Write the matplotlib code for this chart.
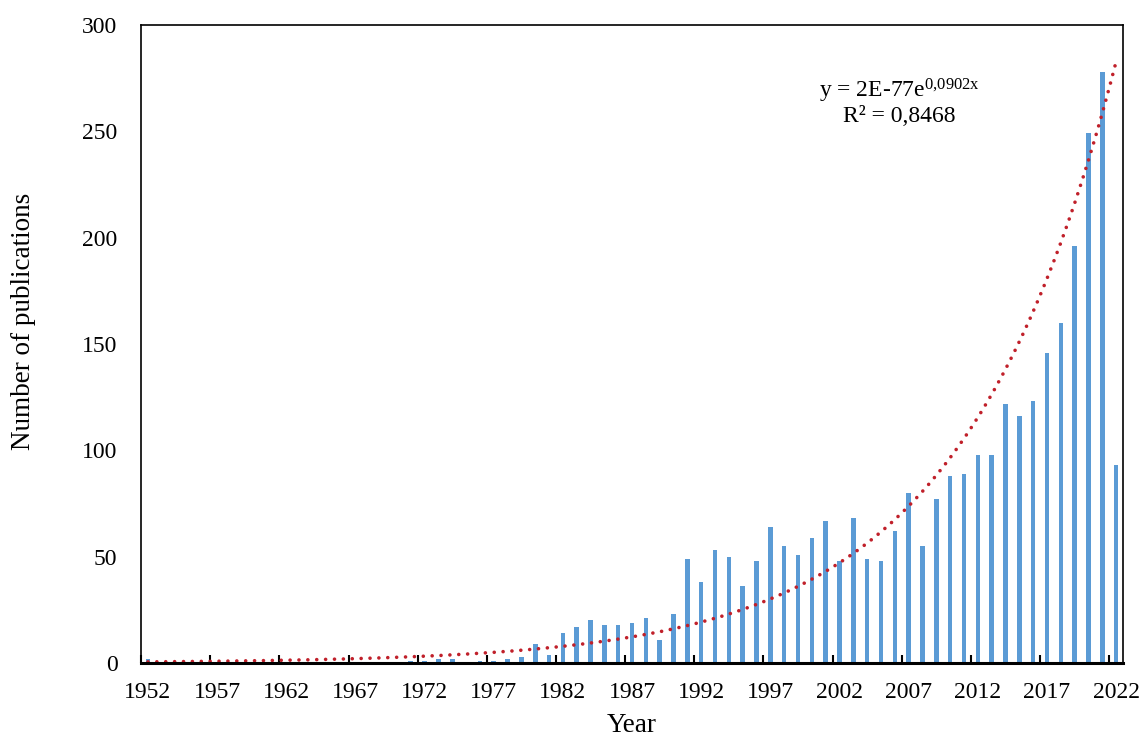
import numpy as np
import matplotlib
matplotlib.use("Agg")
import matplotlib.pyplot as plt

years = list(range(1952, 2023))
publications = [
    2, 0, 0, 0, 0, 0, 0, 0, 0, 0,          # 1952-1961
    0, 0, 0, 0, 0, 0, 0, 0, 0, 1,          # 1962-1971
    1, 2, 2, 0, 1, 1, 2, 3, 9, 4,          # 1972-1981
    14, 17, 20, 18, 18, 19, 21, 11, 23, 49,  # 1982-1991
    38, 53, 50, 36, 48, 64, 55, 51, 59, 67,  # 1992-2001
    48, 68, 49, 48, 62, 80, 55, 77, 88, 89,  # 2002-2011
    98, 98, 122, 116, 123, 146, 160, 196, 249, 278,  # 2012-2021
    93,                                      # 2022
]
tick_years = years[::5]
equation_text = r"y = 2E-77e$^{\mathrm{0{,}0902x}}$"
r2_text = "R² = 0,8468"

plt.rcParams['font.family'] = ['Liberation Serif', 'DejaVu Serif']
plt.rcParams['mathtext.fontset'] = 'custom'
plt.rcParams['mathtext.rm'] = 'Liberation Serif'
plt.rcParams['mathtext.it'] = 'Liberation Serif:italic'

fig = plt.figure(figsize=(11.42, 7.38), dpi=100)
ax = fig.add_axes([0.1235, 0.1016, 0.8599, 0.8645])

yr = np.array(years, dtype=float)
vals = np.array(publications, dtype=float)
idx = np.arange(len(years))
ax.bar(idx, vals, width=0.33, color='#5B9BD5', zorder=2)

# exponential trendline (least squares on log of positive values)
mask = vals > 0
b, lna = np.polyfit(yr[mask], np.log(vals[mask]), 1)
xs = np.linspace(yr[0], yr[-1], 400)
trend = np.exp(lna) * np.exp(b * xs)
ax.plot(xs - yr[0], trend, color='#C0202A', linewidth=2.6,
        linestyle=(0, (0.01, 2.45)), dash_capstyle='round', zorder=3)

ax.set_xlim(-0.5, len(years) - 0.5)
ax.set_ylim(0, 300)
ax.set_yticks(range(0, 301, 50))
ax.set_xticks([y - years[0] for y in tick_years])
ax.set_xticklabels([str(y) for y in tick_years])
ax.set_xticks([y - years[0] - 0.5 for y in tick_years], minor=True)
ax.tick_params(axis='x', which='major', length=0, pad=14, labelsize=17)
ax.tick_params(axis='x', which='minor', length=6, width=1.5, direction='in', color='black')
ax.tick_params(axis='y', length=0, pad=17, labelsize=17)

for s in ['left', 'top', 'right']:
    ax.spines[s].set_linewidth(1.2)
ax.spines['bottom'].set_linewidth(2.2)
ax.spines['bottom'].set_zorder(4)

ax.set_xlabel('Year', fontsize=19.5, labelpad=7)
ax.set_ylabel('Number of publications', fontsize=19.5)
ax.yaxis.set_label_coords(-0.107, 0.536)

ax.text(0.772, 0.897, equation_text, transform=ax.transAxes, ha='center', va='center', fontsize=17)
ax.text(0.772, 0.857, r2_text, transform=ax.transAxes, ha='center', va='center', fontsize=17)

fig.savefig('out.png', dpi=100)
